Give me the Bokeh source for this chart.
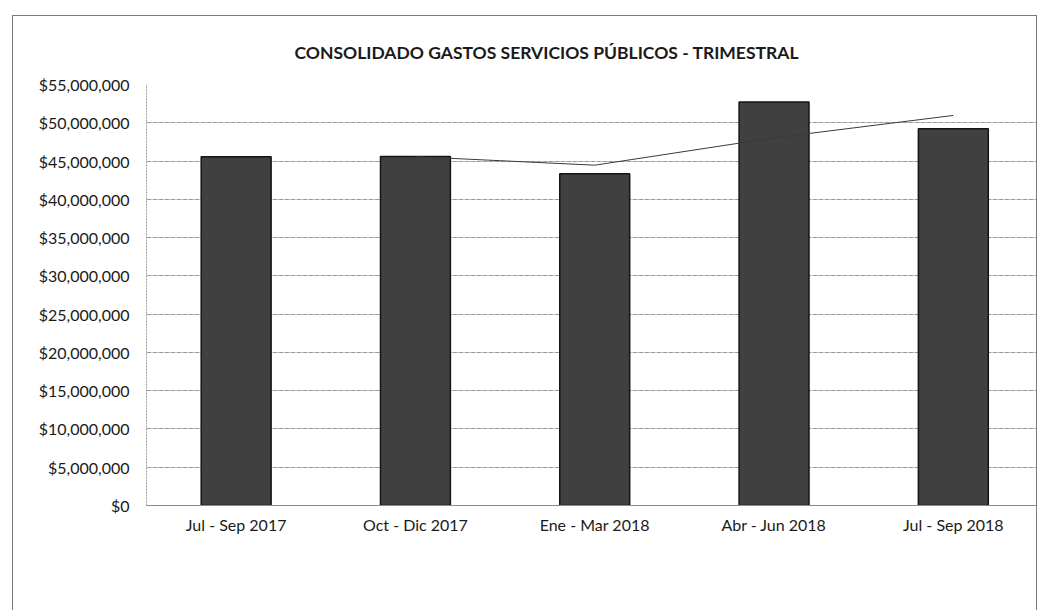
from bokeh.plotting import figure
from bokeh.models import Range1d, FixedTicker, NumeralTickFormatter
from bokeh.embed import file_html
from bokeh.resources import INLINE

categories = ["Jul - Sep 2017", "Oct - Dic 2017", "Ene - Mar 2018", "Abr - Jun 2018", "Jul - Sep 2018"]
gastos = [45570000, 45580000, 43350000, 52700000, 49220000]
tendencia_x = [1, 2, 3, 4]
tendencia = [45570000, 44460000, 48030000, 50960000]
y_ticks = [0, 5000000, 10000000, 15000000, 20000000, 25000000, 30000000,
           35000000, 40000000, 45000000, 50000000, 55000000]
titulo = "CONSOLIDADO GASTOS SERVICIOS PÚBLICOS - TRIMESTRAL"

W, H = 1025, 595
FL, FR, FT, FB = 133, 0, 68, 106
FONT = "Lato"

p = figure(width=W, height=H, output_backend="svg", toolbar_location=None,
           x_range=Range1d(-0.5, 4.475), y_range=Range1d(0, 55000000),
           min_border_left=FL, min_border_right=FR, min_border_top=FT, min_border_bottom=FB,
           title=titulo)
p.outline_line_color = None
p.background_fill_color = "white"
p.border_fill_color = "white"
p.styles = {"border-left": "1.5px solid #7a7a7a", "border-top": "1.5px solid #7a7a7a",
            "border-right": "1.5px solid #7a7a7a", "margin-left": "12px", "margin-top": "15px"}

p.title.text_font = FONT
p.title.text_font_style = "bold"
p.title.text_font_size = "17.5px"
p.title.text_color = "#1a1a1a"
p.title.align = "left"
p.title.offset = 148
p.title.standoff = 44

xs = list(range(len(categories)))
p.vbar(x=xs, top=gastos, width=0.39, fill_color="#404040", line_color="#151515", line_width=1.5)
p.line(tendencia_x, tendencia, line_color="#3a3a3a", line_width=1)

p.xaxis.ticker = FixedTicker(ticks=xs)
p.xaxis.major_label_overrides = {i: c for i, c in enumerate(categories)}
p.xaxis.major_tick_line_color = None
p.xaxis.minor_tick_line_color = None
p.xaxis.axis_line_color = "#8c8c8c"
p.xaxis.major_label_text_font = FONT
p.xaxis.major_label_text_font_size = "16px"
p.xaxis.major_label_text_color = "#1a1a1a"
p.xaxis.major_label_standoff = 3
p.xgrid.grid_line_color = None

p.yaxis.ticker = FixedTicker(ticks=y_ticks)
p.yaxis.formatter = NumeralTickFormatter(format="$0,0")
p.yaxis.major_tick_line_color = None
p.yaxis.minor_tick_line_color = None
p.yaxis.axis_line_color = "#9a9a9a"
p.yaxis.axis_line_dash = "2 1"
p.yaxis.major_label_text_font = FONT
p.yaxis.major_label_text_font_size = "16px"
p.yaxis.major_label_text_color = "#1a1a1a"
p.yaxis.major_label_standoff = 11
p.ygrid.grid_line_color = "#9a9a9a"
p.ygrid.grid_line_dash = "5 1"
p.ygrid.grid_line_width = 1

open("out.html", "w").write(file_html(p, INLINE))
